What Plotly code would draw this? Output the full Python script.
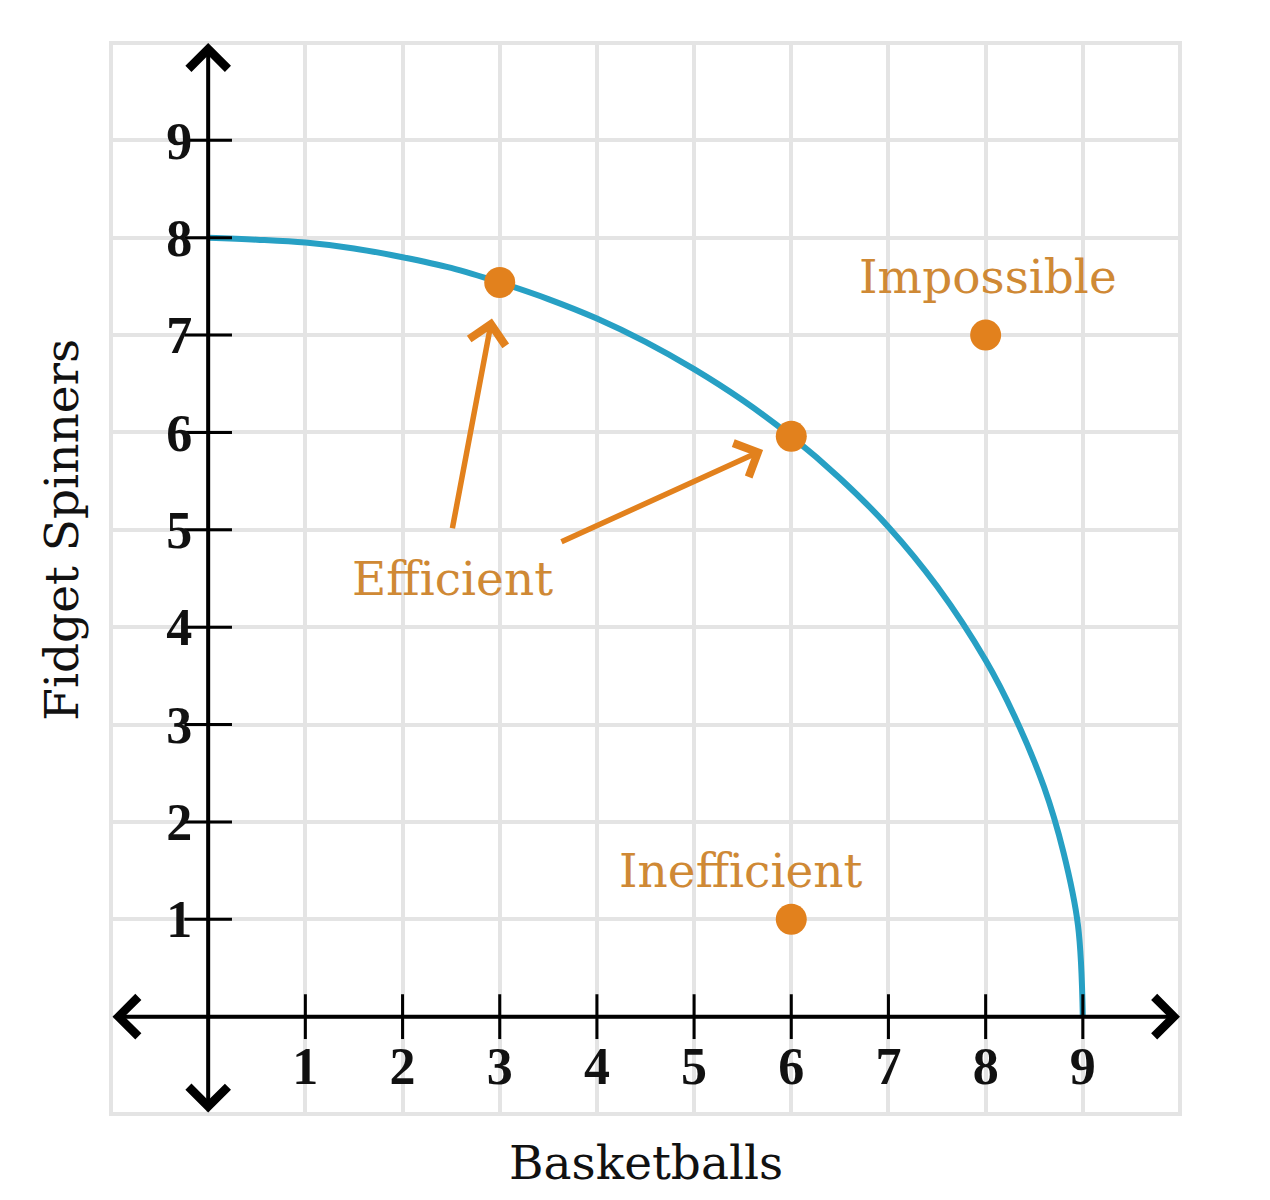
import plotly.graph_objects as go

# ---------------- data ----------------
x_range = [-1, 10]
y_range = [-1, 10]
tick_values = [1, 2, 3, 4, 5, 6, 7, 8, 9]
tick_labels = ["1", "2", "3", "4", "5", "6", "7", "8", "9"]

# production possibilities frontier
ppf_basketballs = [0, 0.5, 1, 1.5, 2, 2.5, 3, 3.5, 4, 4.5, 5, 5.5, 6, 6.5, 7,
                   7.5, 8, 8.3, 8.6, 8.8, 8.95, 9]
ppf_spinners = [8.00, 7.98, 7.95, 7.89, 7.80, 7.69, 7.54, 7.37, 7.17, 6.93, 6.65,
                6.33, 5.96, 5.53, 5.03, 4.42, 3.66, 3.08, 2.36, 1.69, 0.94, 0.0]

point_names = ["Efficient A", "Efficient B", "Impossible", "Inefficient"]
point_basketballs = [3, 6, 8, 6]
point_spinners = [7.54, 5.96, 7, 1]

label_texts = ["Impossible", "Efficient", "Inefficient"]
label_x = [8.02, 2.51, 5.48]
label_y = [7.6, 4.5, 1.5]

# Efficient arrows: tail -> head (data units)
arrow_tail_x = [2.51, 3.62]
arrow_tail_y = [5.0, 4.87]
arrow_head_x = [2.92, 5.71]
arrow_head_y = [7.17, 5.82]

x_title = "Basketballs"
y_title = "Fidget Spinners"

# ---------------- styles ----------------
TEAL = "#27a0c4"
ORANGE = "#e2811d"
LABEL_ORANGE = "#cf8935"
GRID = "#e4e4e4"
SERIF = "DejaVu Serif"
TICKFONT = "Liberation Serif"

fig = go.Figure()

fig.add_trace(go.Scatter(
    x=ppf_basketballs, y=ppf_spinners, mode="lines",
    line=dict(color=TEAL, width=6, shape="spline"),
    hoverinfo="skip", showlegend=False, cliponaxis=False))

# tick marks crossing the axes
fig.add_trace(go.Scatter(
    x=tick_values, y=[0] * len(tick_values), mode="markers",
    marker=dict(symbol="line-ns", size=32, line=dict(color="black", width=3)),
    hoverinfo="skip", showlegend=False, cliponaxis=False))
fig.add_trace(go.Scatter(
    x=[0] * len(tick_values), y=tick_values, mode="markers",
    marker=dict(symbol="line-ew", size=34, line=dict(color="black", width=3)),
    hoverinfo="skip", showlegend=False, cliponaxis=False))

fig.add_trace(go.Scatter(
    x=point_basketballs, y=point_spinners, mode="markers",
    marker=dict(color=ORANGE, size=31, line=dict(width=0)),
    text=point_names, hoverinfo="text", showlegend=False, cliponaxis=False))

x0_frac = (0 - y_range[0]) / (y_range[1] - y_range[0])
y0_frac = (0 - x_range[0]) / (x_range[1] - x_range[0])

tickfont = dict(family=TICKFONT, size=52, color="#111111", weight="bold")

fig.update_xaxes(
    range=x_range, tickvals=tick_values, ticktext=tick_labels,
    showgrid=True, gridcolor=GRID, gridwidth=4,
    minor=dict(tickvals=[0], showgrid=True, gridcolor=GRID, gridwidth=4),
    zeroline=False, showline=False, ticks="",
    anchor="free", position=x0_frac, ticklabelstandoff=14,
    tickfont=tickfont, fixedrange=True)
fig.update_yaxes(
    range=y_range, tickvals=tick_values, ticktext=tick_labels,
    showgrid=True, gridcolor=GRID, gridwidth=4,
    minor=dict(tickvals=[0], showgrid=True, gridcolor=GRID, gridwidth=4),
    zeroline=False, showline=False, ticks="",
    anchor="free", position=y0_frac, ticklabelstandoff=16,
    tickfont=tickfont, fixedrange=True)

annotations = []
# axes with arrowheads at both ends
annotations.append(dict(x=x_range[1], y=0, ax=x_range[0], ay=0,
                        xref="x", yref="y", axref="x", ayref="y", text="",
                        showarrow=True, arrowhead=4, arrowside="end+start",
                        arrowwidth=4, arrowsize=1.9, arrowcolor="black",
                        standoff=0, startstandoff=0))
annotations.append(dict(x=0, y=y_range[1], ax=0, ay=y_range[0],
                        xref="x", yref="y", axref="x", ayref="y", text="",
                        showarrow=True, arrowhead=4, arrowside="end+start",
                        arrowwidth=4, arrowsize=1.9, arrowcolor="black",
                        standoff=0, startstandoff=0))
for hx, hy, tx, ty in zip(arrow_head_x, arrow_head_y, arrow_tail_x, arrow_tail_y):
    annotations.append(dict(x=hx, y=hy, ax=tx, ay=ty,
                            xref="x", yref="y", axref="x", ayref="y", text="",
                            showarrow=True, arrowhead=4, arrowwidth=5.5, arrowsize=1.3,
                            arrowcolor=ORANGE, standoff=0))
for t, lx, ly in zip(label_texts, label_x, label_y):
    annotations.append(dict(x=lx, y=ly, xref="x", yref="y", text=t, showarrow=False,
                            font=dict(family=SERIF, size=47, color=LABEL_ORANGE),
                            xanchor="center", yanchor="middle"))
annotations.append(dict(x=4.5, y=-0.045, xref="x", yref="paper", text=x_title,
                        showarrow=False, xanchor="center", yanchor="middle",
                        font=dict(family=SERIF, size=47, color="#111111")))
annotations.append(dict(x=-0.046, y=5.0, xref="paper", yref="y", text=y_title,
                        showarrow=False, xanchor="center", yanchor="middle", textangle=-90,
                        font=dict(family=SERIF, size=47, color="#111111")))

fig.update_layout(
    width=1270, height=1200,
    margin=dict(l=111, r=90, t=43, b=86),
    paper_bgcolor="white", plot_bgcolor="white",
    shapes=[dict(type="rect", xref="paper", yref="paper", x0=0, y0=0, x1=1, y1=1,
                 line=dict(color=GRID, width=4), layer="below")],
    annotations=annotations, showlegend=False)

fig.write_html("out.html")
